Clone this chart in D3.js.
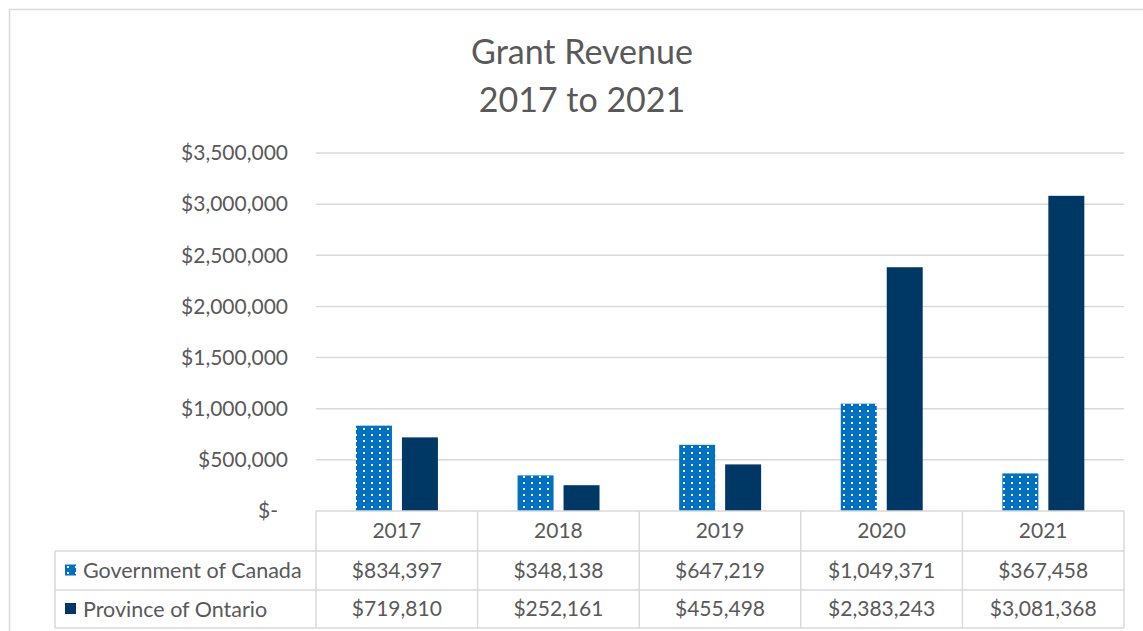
<!DOCTYPE html>
<html>
<head>
<meta charset="utf-8">
<script src="https://cdn.jsdelivr.net/npm/d3@7"></script>
<style>
  body { margin: 0; background: #fff; }
  text { font-family: Lato, "Open Sans", sans-serif; fill: #595959; }
</style>
</head>
<body>
<div id="chart"></div>
<script>
const years = ["2017", "2018", "2019", "2020", "2021"];
const seriesNames = ["Government of Canada", "Province of Ontario"];
const canadaValues = [834397, 348138, 647219, 1049371, 367458];
const ontarioValues = [719810, 252161, 455498, 2383243, 3081368];
const yTicks = [0, 500000, 1000000, 1500000, 2000000, 2500000, 3000000, 3500000];

const width = 1143, height = 631;
const plotLeft = 316, plotRight = 1124, plotTop = 153, plotBottom = 511;
const rowLines = [511, 551, 590, 628];
const tableLeft = 55;

const svg = d3.select('#chart').append('svg')
    .attr('width', width)
    .attr('height', height);

// dotted fill for the federal series
const defs = svg.append('defs');
const pat = defs.append('pattern')
    .attr('id', 'dots')
    .attr('patternUnits', 'userSpaceOnUse')
    .attr('width', 8)
    .attr('height', 6);
pat.append('rect').attr('width', 8).attr('height', 6).attr('fill', '#0070C0');
pat.append('rect').attr('x', 3).attr('y', 2).attr('width', 2).attr('height', 2).attr('fill', '#fff');

const colors = ['url(#dots)', '#003865'];

// outer chart border
svg.append('rect')
    .attr('x', 9.5).attr('y', 9.5)
    .attr('width', 1150).attr('height', 640)
    .attr('fill', 'none')
    .attr('stroke', '#D9D9D9')
    .attr('stroke-width', 1.5);

// title
const title = svg.append('text')
    .attr('x', 582)
    .attr('text-anchor', 'middle')
    .style('font-size', '34px');
title.append('tspan').attr('x', 582).attr('y', 64).text('Grant Revenue');
title.append('tspan').attr('x', 582).attr('y', 112).text('2017 to 2021');

const x = d3.scaleBand().domain(years).range([plotLeft, plotRight]).padding(0);
const xInner = d3.scaleBand().domain(seriesNames)
    .range([40 / 161.7 * x.bandwidth(), 122 / 161.7 * x.bandwidth()])
    .paddingInner(10 / 46);
const y = d3.scaleLinear().domain([0, 3500000]).range([plotBottom, plotTop]);

// gridlines
svg.append('g')
    .selectAll('line')
    .data(yTicks.slice(1))
    .join('line')
    .attr('x1', plotLeft).attr('x2', plotRight)
    .attr('y1', d => y(d)).attr('y2', d => y(d))
    .attr('stroke', '#D9D9D9')
    .attr('stroke-width', 1.5);

// y axis labels
const fmt = d3.format('$,');
const yAxis = svg.append('g')
    .attr('transform', `translate(${plotLeft - 28},0)`)
    .call(d3.axisLeft(y).tickValues(yTicks).tickSize(0).tickPadding(0)
        .tickFormat(d => d === 0 ? '$-' : fmt(d)));
yAxis.select('.domain').remove();
yAxis.selectAll('text')
    .style('font-size', '21px')
    .attr('fill', '#595959')
    .attr('font-family', 'Lato, "Open Sans", sans-serif')
    .attr('dx', d => d === 0 ? -10 : 0);

// bars
const seriesData = [canadaValues, ontarioValues];
seriesData.forEach((vals, si) => {
    svg.append('g')
        .selectAll('rect')
        .data(years.map((yr, i) => ({ yr, v: vals[i] })))
        .join('rect')
        .attr('x', d => x(d.yr) + xInner(seriesNames[si]))
        .attr('y', d => y(d.v))
        .attr('width', xInner.bandwidth())
        .attr('height', d => y(0) - y(d.v))
        .attr('fill', colors[si]);
});

// data table
const grid = svg.append('g').attr('stroke', '#D9D9D9').attr('stroke-width', 1.5).attr('fill', 'none');
grid.append('line').attr('x1', plotLeft).attr('x2', plotRight).attr('y1', rowLines[0]).attr('y2', rowLines[0]);
rowLines.slice(1).forEach(ry => {
    grid.append('line').attr('x1', tableLeft).attr('x2', plotRight).attr('y1', ry).attr('y2', ry);
});
grid.append('line').attr('x1', tableLeft).attr('x2', tableLeft).attr('y1', rowLines[1]).attr('y2', rowLines[3]);
years.concat(['end']).forEach((yr, i) => {
    const lx = i < years.length ? x(yr) : plotRight;
    grid.append('line').attr('x1', lx).attr('x2', lx).attr('y1', rowLines[0]).attr('y2', rowLines[3]);
});

const rowMid = i => (rowLines[i] + rowLines[i + 1]) / 2;

svg.append('g')
    .selectAll('text')
    .data(years)
    .join('text')
    .attr('x', d => x(d) + x.bandwidth() / 2)
    .attr('y', rowMid(0))
    .attr('dy', '0.35em')
    .attr('text-anchor', 'middle')
    .style('font-size', '21px')
    .text(d => d);

seriesData.forEach((vals, si) => {
    const ry = rowMid(si + 1);
    svg.append('rect')
        .attr('x', 65).attr('y', ry - 6)
        .attr('width', 11).attr('height', 11)
        .attr('fill', colors[si]);
    svg.append('text')
        .attr('x', 83).attr('y', ry)
        .attr('dy', '0.35em')
        .style('font-size', '21.5px')
        .text(seriesNames[si]);
    svg.append('g')
        .selectAll('text')
        .data(vals)
        .join('text')
        .attr('x', (d, i) => x(years[i]) + x.bandwidth() / 2)
        .attr('y', ry)
        .attr('dy', '0.35em')
        .attr('text-anchor', 'middle')
        .style('font-size', '21px')
        .text(d => fmt(d));
});
</script>
</body>
</html>
